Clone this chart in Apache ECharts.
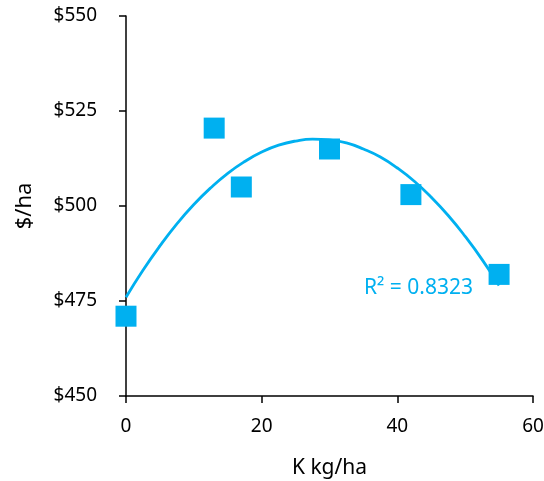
<!DOCTYPE html>
<html>
<head>
<meta charset="utf-8">
<script src="https://cdn.jsdelivr.net/npm/echarts@6/dist/echarts.min.js"></script>
<style>
  html, body { margin: 0; padding: 0; background: #fff; }
  #chart { width: 544px; height: 481px; }
</style>
</head>
<body>
<div id="chart"></div>
<script>
    // measured points
    var kRate = [0, 13, 17, 30, 42, 55];
    var returns = [471, 520.5, 505, 515, 503, 482];
    // trendline
    var trendX = [0, 2.5, 5, 7.5, 10, 12.5, 15, 17.5, 20, 22.5, 25, 27.5, 30, 32.5, 35, 37.5, 40, 42.5, 45, 47.5, 50, 52.5, 55];
    var trendY = [476, 483.1, 489.5, 495.3, 500.4, 504.8, 508.6, 511.7, 514.2, 516, 517.1, 517.6, 517.4, 516.6, 515, 512.9, 510, 506.5, 502.3, 497.5, 492, 485.9, 479.1];
    var rSquared = 'R² = 0.8323';

    var blue = '#00B0F0';
    var font = 'Noto Sans';

    var pts = kRate.map(function(x, i) { return [x, returns[i]]; });
    var trend = trendX.map(function(x, i) { return [x, trendY[i]]; });

    var option = {
        animation: false,
        grid: { left: 126, right: 11, top: 16, bottom: 85, outerBoundsMode: 'none' },
        xAxis: {
            type: 'value',
            min: 0, max: 60, interval: 20,
            name: 'K kg/ha',
            nameLocation: 'middle',
            nameGap: 62,
            nameTextStyle: { color: '#000', fontSize: 21, fontFamily: font },
            axisLine: { onZero: false, lineStyle: { color: '#000', width: 1.5 } },
            axisTick: { show: true, length: 7, lineStyle: { color: '#000', width: 1.5 } },
            axisLabel: { color: '#000', fontSize: 19, fontFamily: font, margin: 21 },
            splitLine: { show: false }
        },
        yAxis: {
            type: 'value',
            min: 450, max: 550, interval: 25,
            name: '$/ha',
            nameLocation: 'middle',
            nameGap: 90,
            nameTextStyle: { color: '#000', fontSize: 22, fontFamily: font },
            axisLine: { show: true, lineStyle: { color: '#000', width: 1.5 } },
            axisTick: { show: true, length: 7, lineStyle: { color: '#000', width: 1.5 } },
            axisLabel: {
                color: '#000', fontSize: 19, fontFamily: font, margin: 29,
                formatter: function(v) { return '$' + v; }
            },
            splitLine: { show: false }
        },
        series: [
            {
                type: 'line',
                data: trend,
                smooth: true,
                symbol: 'none',
                lineStyle: { color: blue, width: 2.8 },
                z: 2
            },
            {
                type: 'scatter',
                data: pts,
                symbol: 'rect',
                symbolSize: 21,
                itemStyle: { color: blue, opacity: 1 },
                z: 3
            }
        ],
        graphic: [
            {
                type: 'text',
                left: 364,
                top: 278,
                style: { text: rSquared, fill: blue, fontSize: 21, fontFamily: font }
            }
        ]
    };
    var myChart = echarts.init(document.getElementById('chart'));
    myChart.setOption(option);
</script>
</body>
</html>
